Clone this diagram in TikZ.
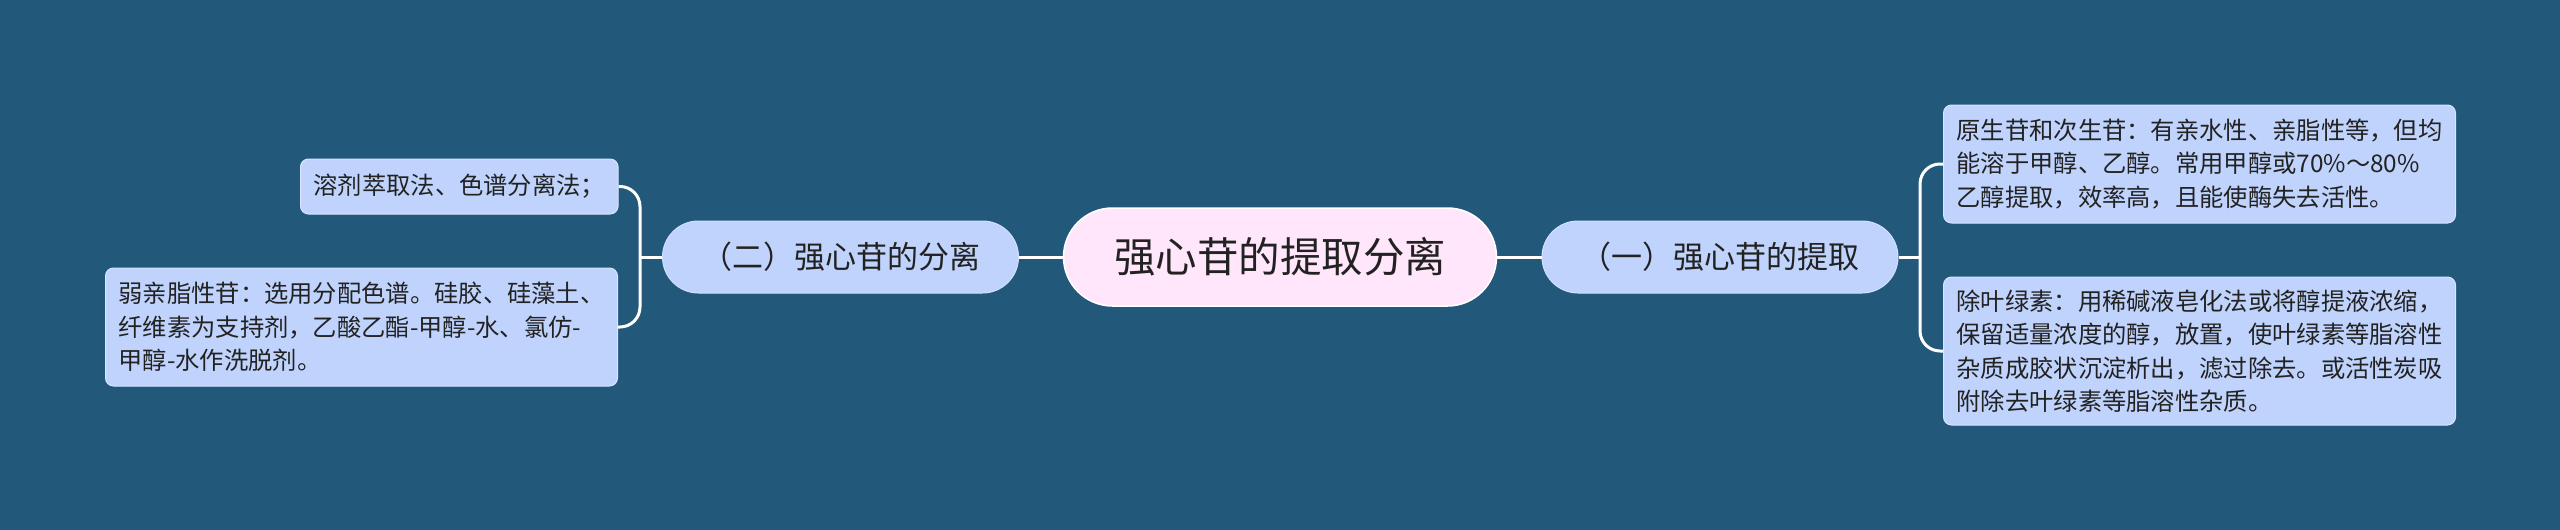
\documentclass[tikz,border=0pt]{standalone}
\usepackage{fontspec}
\setmainfont{Noto Sans CJK SC}
\definecolor{bgc}{RGB}{34,88,122}
\definecolor{leaffill}{RGB}{191,211,252}
\definecolor{rootfill}{RGB}{255,230,250}
\definecolor{txt}{RGB}{34,34,34}
\tikzset{
  rootbox/.style={draw=white, line width=1.5pt, fill=rootfill, rounded corners=49pt,
    minimum width=433pt, minimum height=98pt, inner sep=0pt, text=txt,
    font=\fontsize{41.5pt}{48pt}\selectfont},
  midbox/.style={draw=leaffill!70!white, line width=1pt, fill=leaffill, rounded corners=36pt,
    minimum width=356pt, minimum height=72pt, inner sep=0pt, text=txt,
    font=\fontsize{31pt}{36pt}\selectfont},
  leafbox/.style={draw=leaffill!60!white, line width=1pt, fill=leaffill, rounded corners=8pt,
    align=left, inner xsep=13pt, inner ysep=6pt, text=txt, anchor=west,
    font=\fontsize{24.3pt}{33.5pt}\selectfont},
  conn/.style={draw=white, line width=3pt},
}
\begin{document}
\begin{tikzpicture}[x=1pt,y=-1pt]
\fill[bgc] (0,0) rectangle (2560,530);
\useasboundingbox (0,0) rectangle (2560,530);

\node[rootbox] (root) at (1280,257) {强心苷的提取分离};
\node[midbox] (b2) at (840.5,257) {（二）强心苷的分离};
\node[midbox] (b1) at (1720,257) {（一）强心苷的提取};

\node[leafbox, minimum height=55pt] (l1) at (300,186.5) {溶剂萃取法、色谱分离法；};
\node[leafbox, minimum height=118pt, minimum width=512pt] (l2) at (105,327) {弱亲脂性苷：选用分配色谱。硅胶、硅藻土、\\纤维素为支持剂，乙酸乙酯-甲醇-水、氯仿-\\甲醇-水作洗脱剂。};

\node[leafbox, minimum height=118pt, minimum width=512pt] (r1) at (1943,164) {原生苷和次生苷：有亲水性、亲脂性等，但均\\能溶于甲醇、乙醇。常用甲醇或70\%～80\%\\乙醇提取，效率高，且能使酶失去活性。};
\node[leafbox, minimum height=148pt, minimum width=512pt] (r2) at (1943,351) {除叶绿素：用稀碱液皂化法或将醇提液浓缩，\\保留适量浓度的醇，放置，使叶绿素等脂溶性\\杂质成胶状沉淀析出，滤过除去。或活性炭吸\\附除去叶绿素等脂溶性杂质。};

\coordinate (jl) at (640,257);
\coordinate (jr) at (1920,257);

\draw[conn] (root.west) -- (b2.east);
\draw[conn] (root.east) -- (b1.west);
\draw[conn] (b2.west) -- (jl);
\draw[conn] (b1.east) -- (jr);
\draw[conn, rounded corners=20pt] (jl) |- (l1.east);
\draw[conn, rounded corners=20pt] (jl) |- (l2.east);
\draw[conn, rounded corners=20pt] (jr) |- (r1.west);
\draw[conn, rounded corners=20pt] (jr) |- (r2.west);
\end{tikzpicture}
\end{document}
